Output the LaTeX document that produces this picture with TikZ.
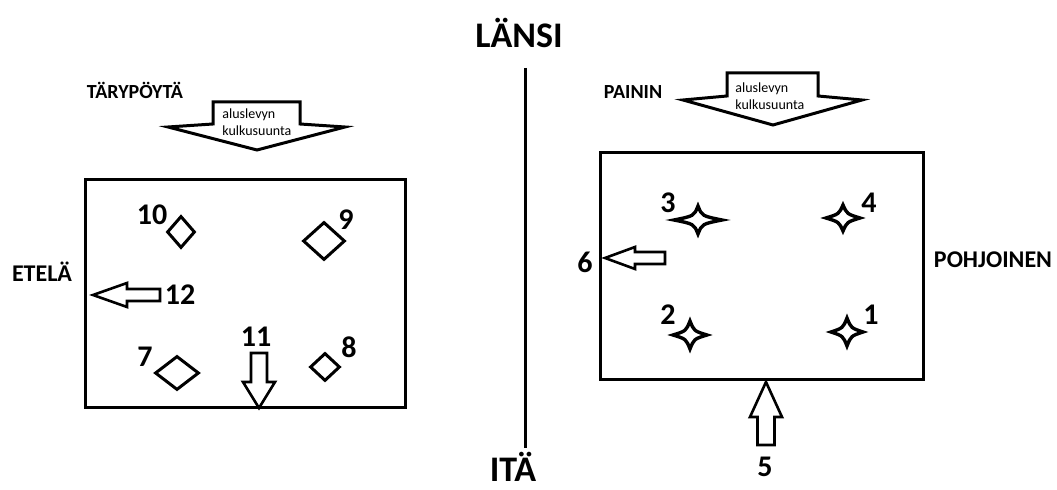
\documentclass[tikz,border=0pt]{standalone}
\usepackage{fontspec}
\setmainfont{Carlito}
\usetikzlibrary{shapes.geometric}

\begin{document}
\begin{tikzpicture}[
  x=0.5pt, y=-0.5pt,
  compass/.style={font=\bfseries\fontsize{18}{20}\selectfont, inner sep=0pt},
  side/.style={font=\bfseries\fontsize{12}{14}\selectfont},
  machine/.style={font=\bfseries\fontsize{10}{12}\selectfont},
  num/.style={font=\bfseries\fontsize{15}{17}\selectfont, inner sep=0pt},
  flowtext/.style={font=\fontsize{7}{8.5}\selectfont, align=left, inner sep=0pt, anchor=west},
  frame/.style={line width=1.5pt},
  bigarrow/.style={draw, line width=1.5pt, fill=white, line join=miter},
  padd/.style={diamond, draw, line width=1.5pt, inner sep=0pt},
  pics/sparkle/.style 2 args={code={
    \draw[line width=1.7pt, line join=miter] (#1,0) .. controls (4,4) .. (0,#2)
      .. controls (-4,4) .. (-#1,0) .. controls (-4,-4) .. (0,-#2)
      .. controls (4,-4) .. (#1,0) -- cycle;}},
  pics/blockarrow/.style n args={4}{code={
    \draw[line width=1.3pt, fill=white, line join=miter] (0,0) -- (#2,-#3) -- (#2,-#4)
      -- (#1,-#4) -- (#1,#4) -- (#2,#4) -- (#2,#3) -- cycle;}},
]
  \useasboundingbox (0,0) rectangle (1057,490);

  % compass line
  \node[compass] (west) at (519,33) {LÄNSI};
  \node[compass] (east) at (513,467) {ITÄ};
  \coordinate (ltop) at (525,68);
  \coordinate (lbot) at (525,448);
  \draw[frame] (ltop) -- (lbot);
  \node[side] (south) at (42,272) {ETELÄ};
  \node[side] (north) at (993,260) {POHJOINEN};

  % vibrating table
  \node[machine] (table) at (135,90) {TÄRYPÖYTÄ};
  \draw[bigarrow] (213,102) -- (300,102) -- (300,124) -- (345,127) -- (257,150)
    -- (168,127) -- (213,124) -- cycle;
  \node[flowtext] (tflow) at (222,122) {aluslevyn\\kulkusuunta};
  \draw[frame] (85,180) rectangle (405,408);
  \node[padd, minimum width=14pt, minimum height=16pt] (d10) at (181,232) {};
  \node[padd, minimum width=21pt, minimum height=19pt] (d9) at (324,241) {};
  \node[padd, minimum width=22pt, minimum height=17pt] (d7) at (177,373) {};
  \node[padd, minimum width=15pt, minimum height=14pt] (d8) at (325,367) {};
  \node[num] (n10) at (152,215) {10};
  \node[num] (n9) at (346,220) {9};
  \node[num] (n7) at (145,357) {7};
  \node[num] (n8) at (349,347) {8};
  \pic at (93,295) {blockarrow={67}{34}{12}{6}};
  \node[num] (n12) at (180,295) {12};
  \node[num] (n11) at (256,337) {11};
  \pic[rotate=90] at (259,408) {blockarrow={55}{26}{16}{8}};

  % press
  \node[machine] (press) at (633,92) {PAININ};
  \draw[bigarrow] (727,73) -- (818,73) -- (818,96) -- (862,100) -- (773,125)
    -- (683,100) -- (727,96) -- cycle;
  \node[flowtext] (pflow) at (735,96) {aluslevyn\\kulkusuunta};
  \draw[frame] (600,153) rectangle (923,380);
  \pic at (698,220) {sparkle={24}{14}};
  \pic at (843,218) {sparkle={17}{13}};
  \pic at (690,335) {sparkle={17}{14}};
  \pic at (847,332) {sparkle={16}{14}};
  \node[num] (n3) at (668,203) {3};
  \node[num] (n4) at (869,203) {4};
  \node[num] (n2) at (668,315) {2};
  \node[num] (n1) at (871,315) {1};
  \pic at (605,258) {blockarrow={60}{30}{11}{6}};
  \node[num] (n6) at (585,262) {6};
  \pic[rotate=-90] at (766,382) {blockarrow={63}{35}{16}{8.5}};
  \node[num] (n5) at (765,467) {5};
\end{tikzpicture}
\end{document}
